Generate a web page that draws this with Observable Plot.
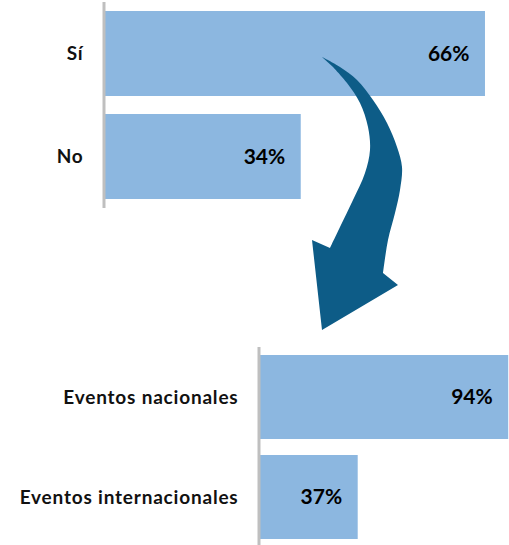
<!DOCTYPE html>
<html>
<head>
<meta charset="utf-8">
<script src="https://cdn.jsdelivr.net/npm/d3@7"></script>
<script src="https://cdn.jsdelivr.net/npm/@observablehq/plot@0.6"></script>
<style>
  html, body { margin: 0; padding: 0; background: #fff; overflow: hidden; }
  #wrap { position: relative; width: 509px; height: 545px; overflow: hidden; }
  #wrap > svg, #wrap > figure { position: absolute; left: 0; margin: 0; }
</style>
</head>
<body>
<div id="wrap"></div>
<script>
// Data
const topCategories = ["Sí", "No"];
const topValues = [66, 34];
const bottomCategories = ["Eventos nacionales", "Eventos internacionales"];
const bottomValues = [94, 37];

// Decorative curved arrow outline (page pixel units)
const arrowOuter = [[322,57],[340,67],[357,80],[373,100],[387,123],[397,147],[402,167],[400,190],[395,213],[388,240],[383,273]];
const arrowHead = [[398,285],[322,330],[312,240]];
const arrowInner = [[330,248],[340,227],[353,200],[365,173],[370,150],[368,127],[360,103],[347,83],[333,67]];

const BAR = "#8cb7e0";
const AXIS = "#bfbfbf";
const FONT = "Lato, 'Open Sans', sans-serif";

const topData = topCategories.map((c, i) => ({cat: c, v: topValues[i]}));
const bottomData = bottomCategories.map((c, i) => ({cat: c, v: bottomValues[i]}));

function barChart(data, cats, opts) {
  const chart = Plot.plot({
    width: 509,
    height: opts.height,
    marginLeft: opts.marginLeft,
    marginRight: opts.marginRight,
    marginTop: 2,
    marginBottom: opts.marginBottom,
    style: {fontFamily: FONT, background: "transparent", overflow: "visible"},
    x: {domain: opts.xDomain, axis: null},
    y: {domain: cats, padding: 0, axis: null},
    marks: [
      Plot.barX(data, {x: "v", y: "cat", fill: BAR, insetTop: opts.inset, insetBottom: opts.inset}),
      Plot.ruleX([0], {stroke: AXIS, strokeWidth: 3, dx: -1.5}),
      Plot.axisY({label: null, tickSize: 0, tickPadding: opts.tickPadding, fontSize: 19, fontWeight: "bold", fill: "#111"}),
      Plot.text(data, {x: "v", y: "cat", text: d => d.v + "%", textAnchor: "end", dx: -16, fontSize: 21, fontWeight: "bold", fill: "#000"})
    ]
  });
  d3.select(chart).selectAll("g[aria-label='y-axis tick label'] text").attr("letter-spacing", "0.8px");
  return chart;
}

const wrap = document.getElementById("wrap");

const topChart = barChart(topData, topCategories, {height: 210, marginLeft: 105, marginRight: 1, marginBottom: 2, xDomain: [0, 70], inset: 9, tickPadding: 22});
topChart.style.top = "0px";
wrap.appendChild(topChart);

const bottomChart = barChart(bottomData, bottomCategories, {height: 202, marginLeft: 260, marginRight: 0, marginBottom: 0, xDomain: [0, 94.3], inset: 8, tickPadding: 22});
bottomChart.style.top = "345px";
wrap.appendChild(bottomChart);

// Arrow overlay
const svg = d3.create("svg").attr("width", 509).attr("height", 545).style("top", "0px").style("position", "absolute").style("left", "0px");
const bodyLine = d3.line().curve(d3.curveCatmullRom);
const pathD = bodyLine(arrowOuter) + "L" + arrowHead.map(p => p.join(",")).join("L") + bodyLine(arrowInner).replace(/^M/, "L") + "Z";
svg.append("path").attr("d", pathD).attr("fill", "#0d5c87");
wrap.appendChild(svg.node());
</script>
</body>
</html>
